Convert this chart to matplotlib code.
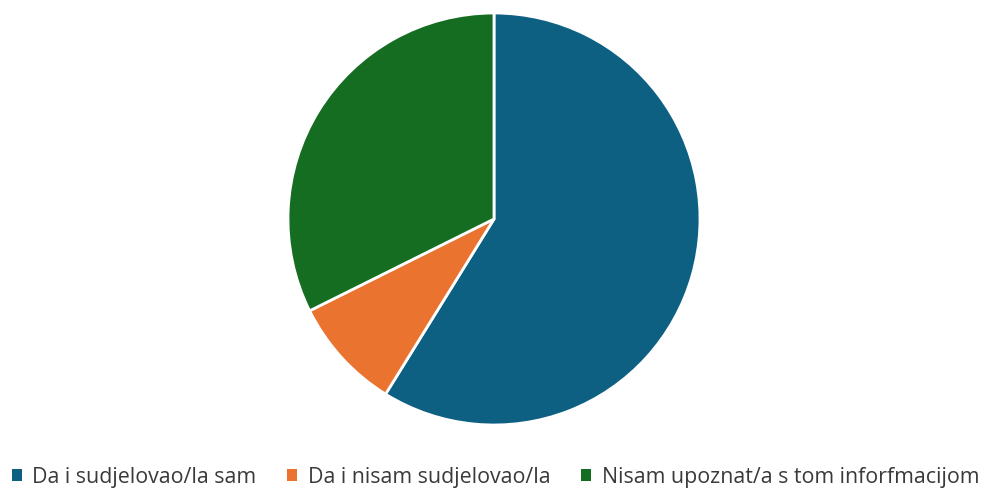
import matplotlib.pyplot as plt
from matplotlib.patches import Patch

labels = ["Da i sudjelovao/la sam", "Da i nisam sudjelovao/la",
          "Nisam upoznat/a s tom inforfmacijom"]
values = [20, 3, 11]
colors = ["#0E6083", "#EB7330", "#156D22"]

fig = plt.figure(figsize=(9.91, 4.89), dpi=100)
ax = fig.add_axes([288 / 991, 63 / 489, 412 / 991, 412 / 489])
ax.pie(values, colors=colors, startangle=90, counterclock=False, radius=1,
       wedgeprops=dict(edgecolor="white", linewidth=2))
ax.set_xlim(-1.0, 1.0)
ax.set_ylim(-1.0, 1.0)
ax.set_aspect("equal")
ax.axis("off")

handles = [Patch(facecolor=c, edgecolor="none") for c in colors]
fig.legend(handles, labels, loc="center", bbox_to_anchor=(0.5, 11 / 489),
           ncol=3, frameon=False, handlelength=0.45, handleheight=0.45,
           handletextpad=0.5, columnspacing=1.45,
           prop=dict(family="Open Sans", size=15.4), labelcolor="#3a3a3a")

fig.savefig("out.png", dpi=100)
